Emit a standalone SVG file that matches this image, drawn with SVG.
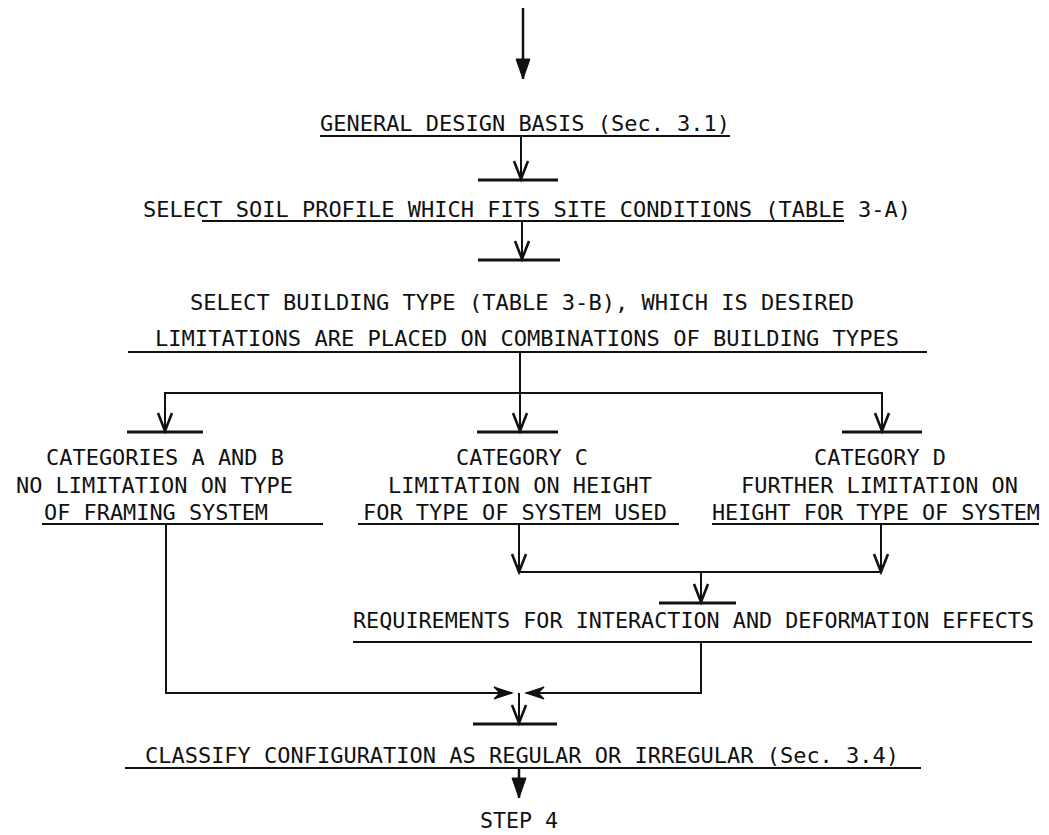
<svg xmlns="http://www.w3.org/2000/svg" width="1049" height="835" viewBox="0 0 1049 835">
<style>
text{font-family:"DejaVu Sans Mono","Liberation Mono",monospace;font-size:22px;fill:#111;}
.ul{stroke:#111;stroke-width:2;fill:none;}
.bar{stroke:#111;stroke-width:3;fill:none;}
.c{stroke:#111;stroke-width:2;fill:none;}
.ca{stroke:#111;stroke-width:2;fill:none;marker-end:url(#v);}
.cf{stroke:#111;stroke-width:2.5;fill:none;marker-end:url(#f);}
.ch{stroke:#111;stroke-width:2;fill:none;marker-end:url(#h);}
</style>
<defs>
<marker id="v" markerUnits="userSpaceOnUse" viewBox="-22 -10 24 20" refX="0" refY="0" markerWidth="24" markerHeight="20" orient="auto" overflow="visible">
<path d="M -18 -7 L 0 0 L -18 7" fill="none" stroke="#111" stroke-width="2.6"/>
</marker>
<marker id="f" markerUnits="userSpaceOnUse" viewBox="-24 -10 26 20" refX="0" refY="0" markerWidth="26" markerHeight="20" orient="auto" overflow="visible">
<path d="M -20 -7 L 0 0 L -20 7 Z" fill="#111" stroke="#111" stroke-width="1"/>
</marker>
<marker id="h" markerUnits="userSpaceOnUse" viewBox="-22 -10 24 20" refX="0" refY="0" markerWidth="24" markerHeight="20" orient="auto" overflow="visible">
<path d="M -18 -6 L 0 0 L -18 6 L -12 0 Z" fill="#111" stroke="#111" stroke-width="1.2"/>
</marker>
</defs>
<rect width="1049" height="835" fill="#fff"/>

<g id="connectors">
<line class="cf" x1="523" y1="8" x2="523" y2="79"/>
<line class="ca" x1="521" y1="136" x2="521" y2="179"/>
<line class="ca" x1="522" y1="221" x2="522" y2="259"/>
<line class="ca" x1="520" y1="352" x2="520" y2="431"/>
<polyline class="ca" points="520,393 165,393 165,431"/>
<polyline class="ca" points="520,393 882,393 882,431"/>
<polyline class="ch" points="166,524 166,693 512,693"/>
<polyline class="ch" points="701,642 701,693 526,693"/>
<line class="ca" x1="519" y1="693" x2="519" y2="723"/>
<line class="ca" x1="519" y1="524" x2="519" y2="572"/>
<line class="ca" x1="881" y1="524" x2="881" y2="572"/>
<line class="c" x1="519" y1="572" x2="881" y2="572"/>
<line class="ca" x1="701" y1="572" x2="701" y2="602"/>
<line class="cf" x1="519" y1="768" x2="519" y2="798"/>
</g>

<g id="general-design-basis">
<text x="320" y="131" textLength="410" lengthAdjust="spacingAndGlyphs">GENERAL DESIGN BASIS (Sec. 3.1)</text>
<line class="ul" x1="320" y1="136" x2="730" y2="136"/>
</g>

<g id="select-soil-profile">
<line class="bar" x1="478" y1="180" x2="558" y2="180"/>
<text x="143" y="217" textLength="768" lengthAdjust="spacingAndGlyphs">SELECT SOIL PROFILE WHICH FITS SITE CONDITIONS (TABLE 3-A)</text>
<line class="ul" x1="202" y1="221" x2="844" y2="221"/>
</g>

<g id="select-building-type">
<line class="bar" x1="478" y1="260" x2="560" y2="260"/>
<text x="190" y="310" textLength="664" lengthAdjust="spacingAndGlyphs">SELECT BUILDING TYPE (TABLE 3-B), WHICH IS DESIRED</text>
<text x="155" y="346" textLength="744" lengthAdjust="spacingAndGlyphs">LIMITATIONS ARE PLACED ON COMBINATIONS OF BUILDING TYPES</text>
<line class="ul" x1="128" y1="352" x2="927" y2="352"/>
</g>

<g id="categories-a-b">
<line class="bar" x1="127" y1="432" x2="203" y2="432"/>
<text x="46" y="465" textLength="238" lengthAdjust="spacingAndGlyphs">CATEGORIES A AND B</text>
<text x="16" y="493" textLength="277" lengthAdjust="spacingAndGlyphs">NO LIMITATION ON TYPE</text>
<text x="44" y="520" textLength="224" lengthAdjust="spacingAndGlyphs">OF FRAMING SYSTEM</text>
<line class="ul" x1="42" y1="524" x2="323" y2="524"/>
</g>

<g id="category-c">
<line class="bar" x1="477" y1="432" x2="558" y2="432"/>
<text x="456" y="465" textLength="132" lengthAdjust="spacingAndGlyphs">CATEGORY C</text>
<text x="388" y="493" textLength="264" lengthAdjust="spacingAndGlyphs">LIMITATION ON HEIGHT</text>
<text x="363" y="520" textLength="304" lengthAdjust="spacingAndGlyphs">FOR TYPE OF SYSTEM USED</text>
<line class="ul" x1="358" y1="524" x2="679" y2="524"/>
</g>

<g id="category-d">
<line class="bar" x1="842" y1="432" x2="922" y2="432"/>
<text x="814" y="465" textLength="132" lengthAdjust="spacingAndGlyphs">CATEGORY D</text>
<text x="741" y="493" textLength="277" lengthAdjust="spacingAndGlyphs">FURTHER LIMITATION ON</text>
<text x="712" y="520" textLength="328" lengthAdjust="spacingAndGlyphs">HEIGHT FOR TYPE OF SYSTEM</text>
<line class="ul" x1="712" y1="524" x2="1039" y2="524"/>
</g>

<g id="requirements">
<line class="bar" x1="659" y1="603" x2="736" y2="603"/>
<text x="353" y="628" textLength="681" lengthAdjust="spacingAndGlyphs">REQUIREMENTS FOR INTERACTION AND DEFORMATION EFFECTS</text>
<line class="ul" x1="353" y1="642" x2="1032" y2="642"/>
</g>

<g id="classify-configuration">
<line class="bar" x1="473" y1="724" x2="557" y2="724"/>
<text x="145" y="763" textLength="754" lengthAdjust="spacingAndGlyphs">CLASSIFY CONFIGURATION AS REGULAR OR IRREGULAR (Sec. 3.4)</text>
<line class="ul" x1="125" y1="768" x2="921" y2="768"/>
</g>

<g id="step-4">
<text x="480" y="828" textLength="78" lengthAdjust="spacingAndGlyphs">STEP 4</text>
</g>
</svg>
